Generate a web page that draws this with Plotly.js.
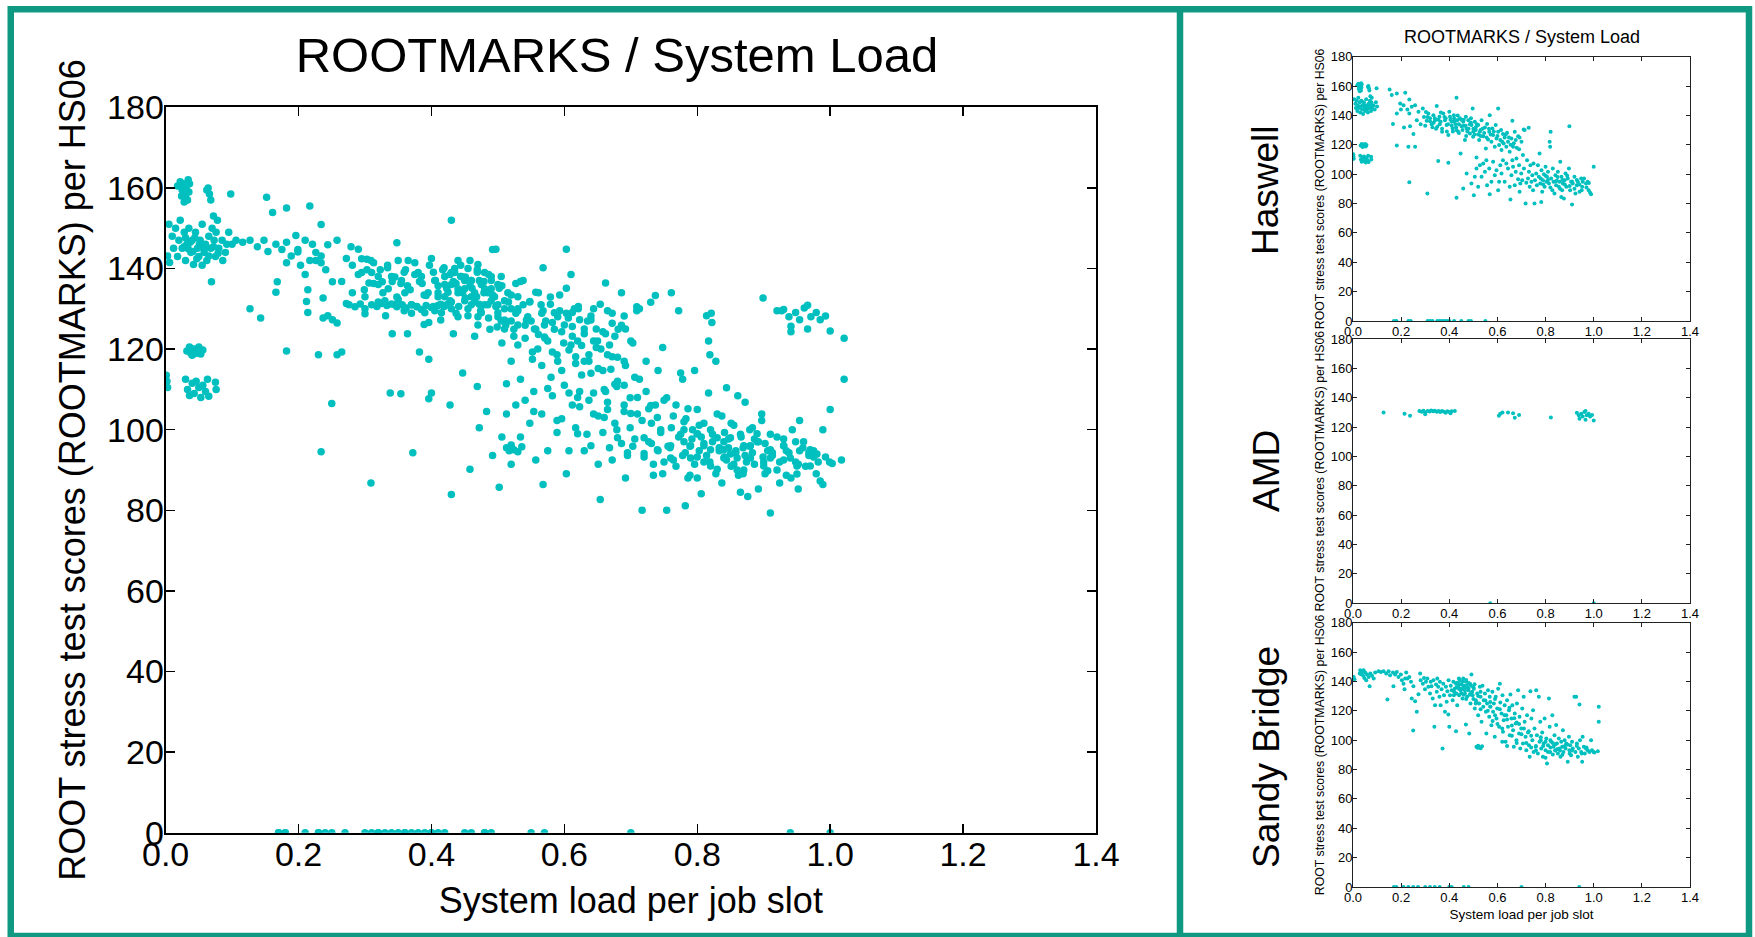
<!DOCTYPE html>
<html><head><meta charset="utf-8">
<script src="https://cdn.plot.ly/plotly-3.0.1.min.js"></script>
<style>html,body{margin:0;padding:0;background:#fff;overflow:hidden}#chart{width:1755px;height:937px}</style>
</head><body><div id="chart"></div>
<script>
// ---------- text ----------
const mainTitle = 'ROOTMARKS / System Load';
const xTitle = 'System load per job slot';
const yTitle = 'ROOT stress test scores (ROOTMARKS) per HS06';
const panelNames = ['Haswell', 'AMD', 'Sandy Bridge'];

// ---------- ticks ----------
const xTickVals = [0, 0.2, 0.4, 0.6, 0.8, 1.0, 1.2, 1.4];
const xTickText = ['0.0', '0.2', '0.4', '0.6', '0.8', '1.0', '1.2', '1.4'];
const yTickVals = [0, 20, 40, 60, 80, 100, 120, 140, 160, 180];
const yTickText = ['0', '20', '40', '60', '80', '100', '120', '140', '160', '180'];

// ---------- Haswell (system load per job slot, ROOTMARKS per HS06) ----------
const haswellX = [
 0.018,0.022,0.025,0.027,0.030,0.031,0.033,0.035,0.036,0.028,0.024,0.034,
 0.062,0.066,0.068,0.064,0.098,
 0.005,0.010,0.012,0.015,0.018,0.020,0.022,0.025,0.028,0.030,
 0.032,0.035,0.038,0.040,0.042,0.045,0.048,0.050,0.052,0.055,
 0.058,0.060,0.062,0.065,0.068,0.070,0.072,0.073,0.075,0.076,
 0.078,0.080,0.085,0.090,0.095,0.100,
 0.032,0.036,0.040,0.043,0.046,0.050,0.053,0.056,0.038,
 0.030,0.033,0.036,0.040,0.043,0.046,0.050,0.053,0.056,0.060,0.063,0.065,0.075,0.076,
 0.001,0.002,0.003,
 0.152,0.161,0.182,0.217,0.234,0.166,0.182,0.196,0.199,0.210,
 0.212,0.226,0.234,0.237,0.244,0.251,0.258,0.265,0.272,0.281,
 0.290,0.295,0.303,0.306,0.313,0.320,0.327,0.334,0.341,0.348,
 0.350,0.359,0.364,0.370,0.375,0.382,0.389,0.396,0.400,0.403,
 0.410,0.414,0.419,0.425,0.430,0.433,0.437,0.444,0.447,0.451,
 0.458,0.465,0.469,0.472,0.479,0.486,0.492,0.497,0.499,0.506,
 0.510,0.513,0.520,0.524,0.527,0.534,0.541,0.548,0.552,0.557,
 0.561,0.566,0.568,0.575,0.579,0.582,0.589,0.593,0.596,0.603,
 0.603,0.607,0.612,0.617,0.623,0.626,0.630,0.637,0.640,0.644,
 0.651,0.658,0.662,0.665,0.672,0.676,0.686,0.692,0.709,0.730,
 0.713,
 0.300,0.310,0.335,0.345,0.355,0.365,0.385,0.395,0.405,0.415,
 0.420,0.428,0.435,0.440,0.455,0.460,0.468,0.475,0.485,0.490,
 0.500,0.505,0.515,0.530,0.538,0.545,0.555,0.565,0.572,0.585,
 0.600,0.615,0.620,0.635,0.648,0.655,0.668,0.680,0.690,0.700,
 0.320,0.330,0.340,0.360,0.370,0.380,0.390,0.410,0.420,0.430,
 0.440,0.450,0.460,0.470,0.480,0.490,0.500,0.510,0.520,0.530,
 0.234,0.309,0.354,0.396,0.182,0.230,0.258,
 0.472,0.458,0.430,0.492,0.502,0.506,0.513,0.520,0.527,0.534,
 0.541,0.548,0.554,0.557,0.566,0.568,0.575,0.582,0.589,0.596,
 0.603,0.607,0.612,0.617,0.623,0.630,0.637,0.644,0.651,0.654,
 0.658,0.662,0.665,0.672,0.676,0.679,0.686,0.690,0.692,0.695,
 0.699,0.703,0.706,0.710,0.717,0.720,0.723,0.727,0.731,0.734,
 0.737,0.741,0.745,0.748,0.750,0.754,0.756,0.761,0.764,0.768,
 0.772,0.775,0.778,0.782,0.783,0.786,0.789,0.793,0.796,0.800,
 0.803,0.806,0.810,0.814,0.817,0.819,0.821,0.823,0.828,0.830,
 0.833,0.837,0.841,0.844,0.847,0.851,0.855,0.858,0.861,0.865,
 0.866,0.869,0.872,0.876,0.879,0.883,0.886,0.892,0.897,0.899,
 0.902,0.906,0.910,0.913,0.920,0.924,0.930,0.934,0.941,0.948,
 0.952,0.954,0.975,0.979,0.985,0.989,1.000,0.968,
 0.780,0.790,0.800,0.810,0.820,0.840,0.850,0.860,0.870,0.880,
 0.890,0.900,0.910,0.920,0.930,0.940,0.950,0.960,0.970,0.980,
 0.17,0.18,0.23,0.24,0.31,0.32,0.33,0.35,0.36,0.37,0.38,0.39,0.40,0.42,0.45,0.48,0.49,0.55
];
const haswellY = [
 160.5,161.5,159.5,161,158,160,157,159,161,156.5,158,162,
 159.5,158.5,157,160,158.5,
 151,148,145,150,143,147,152,145,149,142,
 146,150,144,147,141,149,145,143,147,151,
 144,146,142,148,145,150,153,147,143,149,
 152,145,147,144,149,146,
 119.5,120.5,118.5,120,119,120.5,118.8,119.8,119,
 112.5,110,108.5,111.5,109,112,110.5,108,111,109.5,112.5,108.3,111.8,110,
 113.5,112,110.5,
 157.7,153.9,155,155.5,150.9,134.1,141.4,148.2,144.1,147,
 131.8,144,141.4,132.7,145.9,127.3,147,136.8,142.5,134,
 144.8,139,142.3,136.4,141.4,138,134,140.2,136.8,146.4,
 132.3,139.1,135.7,128.9,141.4,136.8,133.4,126.6,142.5,139.1,
 135.7,131.1,140.2,134.1,152,136.8,128.9,138,114.1,132.7,
 135.7,123.2,139.1,131.1,136.8,127.7,133.4,144.8,125.5,135.7,
 130,111.4,133.4,123.2,128.9,136.8,125.9,131.8,117.5,134.1,
 123.6,128.9,140.2,122,131.1,126.6,118.6,133.4,124.3,144.8,
 128.9,119.8,123.2,116.4,127.3,120.9,125,118.6,128.2,122,
 115.2,124.3,136.4,118.6,128.9,123.2,125.9,125,130.5,131.6,
 130,
 133,139,135,131,137,142,138,134,137,129,
 136,132,140,134,130,137,133,129,134,138,
 131,127,134,126,131,128,125,131,127,129,
 126,130,122,127,125,120,121,118,117,122,
 136,132,138,134,131,139,129,133,138,130,
 128,137,133,126,131,135,129,132,127,130,
 94.5,86.8,108.9,107.7,119.5,118.6,118.6,
 100.5,90.2,83.9,93.6,85.7,98.2,103.9,91.4,106.1,98.2,
 107.3,101.6,109.5,92.5,103.9,86.4,94.8,108.4,99.3,102.7,
 89.1,94.8,106.1,100.5,109.5,94.8,107.3,103.9,91.4,82.7,
 99.3,109.5,105,92.5,101.6,110.7,96.6,106.1,88,93.6,
 100.5,95.9,113,103.9,80,94.1,109.5,97,101.6,91.4,
 106.1,94.8,99.3,89.1,107.3,80,95.9,100.5,92.5,106.1,
 98.2,114.1,93.6,81.1,102.7,88,95.9,100,91.4,105,
 94.8,98.2,101.6,93.6,122,118.6,128.9,97,89.1,103.9,
 94.8,86.8,99.3,92.5,95.5,101.6,91.4,94.8,108.4,84.5,
 98.2,89.1,93.6,83.4,95.9,100.5,91.4,97,103.9,132.7,
 89.1,94.8,79.3,93.6,98.2,86.8,92.5,94.8,88,97,
 91.4,94.8,94.8,89.1,87.3,86.4,105,93.6,
 97,93,99,96,91,95,98,90,96,93,
 99,92,95,90,96,93,89,97,91,94,
 0,0,0,0,0,0,0,0,0,0,0,0,0,0,0,0,0,0
];

// ---------- AMD ----------
const amdX = [
 0.127,0.214,0.237,0.276,0.285,0.293,0.300,0.310,0.318,0.300,
 0.325,0.333,0.340,0.348,0.356,0.362,0.370,0.378,0.385,0.392,
 0.400,0.405,0.410,0.423,0.606,0.612,0.621,0.644,0.665,0.672,
 0.690,0.822,0.930,0.938,0.941,0.948,0.954,0.961,0.966,0.971,
 0.966,0.979,0.985,0.993,1.000,0.57,1.00
];
const amdY = [
 130,129.1,127.7,131,130.5,131.2,130,131,130.6,128.8,
 131.3,130.8,131.2,130.5,131,130.2,131,130.5,129.8,130.8,
 130.3,129.5,130.8,131,127.7,129.1,130,130,129.5,126.4,
 128.2,126.6,129.8,128,125.7,129.1,127.3,130.2,130.9,128,
 125,129.1,127.3,128.2,124.5,0,0
];

// ---------- Sandy Bridge ----------
const sandyX = [
 0.030,0.037,0.044,0.051,0.028,0.041,0.058,0.065,0.072,0.079,
 0.086,0.069,0.092,0.055,0.047,0.034,0.003,0.006,0.106,0.116,
 0.127,0.138,0.143,0.148,0.154,0.166,0.168,0.175,0.182,0.189,
 0.199,0.203,0.210,0.217,0.221,0.214,0.226,0.234,0.241,0.244,
 0.251,0.258,0.265,0.272,0.279,0.281,0.290,0.295,0.299,0.303,
 0.309,0.313,0.320,0.323,0.326,0.331,0.334,0.338,0.341,0.345,
 0.348,0.350,0.354,0.359,0.361,0.364,0.368,0.372,0.375,0.378,
 0.382,0.386,0.389,0.392,0.396,0.397,0.400,0.403,0.406,0.410,
 0.414,0.417,0.419,0.423,0.428,0.428,0.430,0.433,0.437,0.441,
 0.444,0.447,0.451,0.455,0.458,0.461,0.465,0.469,0.469,0.472,
 0.474,0.479,0.483,0.486,0.488,0.492,0.497,0.502,0.506,0.510,
 0.516,0.520,0.524,0.527,0.530,0.534,0.538,0.541,0.543,0.548,
 0.552,0.554,0.557,0.561,0.566,0.568,0.571,0.575,0.579,0.582,
 0.585,0.589,0.593,0.596,0.599,0.603,0.607,0.610,0.612,0.617,
 0.621,0.623,0.626,0.630,0.634,0.637,0.640,0.644,0.648,0.651,
 0.654,0.658,0.662,0.665,0.668,0.672,0.676,0.679,0.681,0.686,
 0.690,0.692,0.695,0.699,0.703,0.706,0.709,0.713,0.717,0.720,
 0.723,0.727,0.731,0.734,0.737,0.741,0.745,0.748,0.750,0.754,
 0.759,0.761,0.764,0.768,0.772,0.775,0.778,0.782,0.786,0.789,
 0.792,0.796,0.800,0.803,0.806,0.810,0.814,0.817,0.819,0.823,
 0.828,0.830,0.833,0.837,0.841,0.844,0.847,0.851,0.855,0.858,
 0.862,0.865,0.869,0.872,0.874,0.879,0.883,0.886,0.892,0.897,
 0.899,0.902,0.906,0.910,0.913,0.920,0.927,0.924,0.930,0.934,
 0.938,0.941,0.943,0.948,0.952,0.954,0.959,0.963,0.968,0.975,
 0.982,0.989,0.993,0.999,1.003,1.017,1.021,1.021,0.513,0.517,
 0.520,0.524,0.530,0.536,0.250,
 0.420,0.430,0.435,0.440,0.445,0.450,0.455,0.460,0.465,0.470,
 0.475,0.480,0.485,0.490,0.495,0.500,0.505,0.512,0.520,0.530,
 0.560,0.570,0.580,0.590,0.600,0.620,0.640,0.660,0.680,0.700,
 0.720,0.740,0.760,0.780,0.800,0.820,0.840,0.860,0.880,0.900,
 0.430,0.440,0.450,0.460,0.470,0.480,0.490,0.500,0.510,0.530,
 0.550,0.570,0.590,0.610,0.630,0.650,0.670,0.690,0.710,0.730,
 0.790,0.810,0.830,0.850,0.870,0.890,0.910,0.930,0.950,0.970,
 0.620,0.640,0.660,0.680,0.740,0.760,0.780,0.800,0.820,0.840,
 0.17,0.18,0.21,0.23,0.25,0.27,0.30,0.32,0.34,0.36,0.40,0.41,0.46,0.48,0.70,0.94
];
const sandyY = [
 147.6,146.5,147.6,146,145.4,144.2,144.7,143.1,145.4,143.8,
 142,136.7,146,140.8,142.4,144.9,143.1,141.5,147,146.5,
 147,145.4,127.7,147,144.2,146,136.7,144.7,146.5,143.1,
 144.7,140.8,138.5,142,146,134.7,142,143.1,139.7,128.3,
 136.7,126.5,119.3,131.3,145.4,140.8,138.5,142.4,134.7,139.7,
 142,136.3,131.7,139.7,136.7,128.3,140.8,109.1,123.8,137.9,
 132.9,142,136.3,129.5,139.7,123.8,134.7,94.3,138.5,130.6,
 119.3,136.3,126.1,133.3,117.5,140.8,109.1,130.6,137,134,
 127.2,139.7,130.6,135.1,106.1,138.5,131.7,123.8,136.3,130.6,
 140.8,134,137.9,128.3,142,135.1,131.7,110.7,139.7,137,
 129.5,134,104.5,138.5,124.9,144.7,130.6,135.1,121.5,127.2,
 131.7,117,124.9,136.3,129.5,112.5,137,122.7,127.2,131.7,
 119.3,104.5,124.9,134,115.9,129.5,122.7,110.2,132.9,119.3,
 124.9,102.3,129.5,114.7,121.5,135.1,109.1,138.5,125.6,118.1,
 130.6,105.7,113.6,123.8,98.9,117,127.2,109.1,120.4,103.4,
 131.1,114.7,123.8,106.8,95.5,118.1,111.3,100,124.9,134,
 104.5,115.9,94.3,107.9,121.5,97.7,129.5,112.5,102.3,93.2,
 117,105.2,96.6,88.7,133.3,114.7,100,120.4,92,107.9,
 95.5,134,103.4,90.9,129.5,98.9,112.5,94.3,105.2,88.7,
 97.7,114.7,93.2,101.1,84.1,96.6,128.3,109.1,92,98.9,
 117,90.2,95.5,103.4,93.2,110.4,97.7,90.9,101.1,94.3,
 88.7,98.9,95.5,106.8,92,100,94.3,97.7,85.3,102.3,
 93.2,96.6,89.8,98.9,94.3,129.5,129.5,92,97.7,88.7,
 94.3,124.3,100,92,85.3,102.3,95.5,90.9,94.3,93.2,
 92,100,93.2,92,91.6,92.5,122.7,112.5,95.5,94.8,
 96.2,95,94.5,95.8,106.5,
 133,136,139,135,138,132,140,137,134,141,
 136,139,131,137,133,128,138,126,130,121,
 120,126,113,117,111,108,114,110,112,104,
 98,103,96,100,99,95,97,93,96,91,
 139,142,135,131,128,135,132,136,125,133,
 127,123,128,121,117,122,115,111,108,106,
 96,92,98,94,90,97,93,96,91,95,
 99,96,103,98,95,93,102,88,100,93,
 0,0,0,0,0,0,0,0,0,0,0,0,0,0,0,0
];

// ---------- drawing ----------
const W = 1755, H = 937;
const fx = p => p / W;
const fy = p => 1 - p / H;
const FONT = 'Liberation Sans, Arial, Helvetica, sans-serif';
const CYAN = '#00bfbf';
const TEAL = '#0f9983';

function axisStyle(big, extra) {
  return Object.assign({
    showgrid: false, zeroline: false, showline: true,
    linecolor: big ? '#000' : '#222', linewidth: big ? 2 : 1,
    mirror: 'ticks', ticks: 'inside', ticklen: big ? 9 : 4,
    tickwidth: big ? 1.5 : 1, tickcolor: big ? '#000' : '#222',
    tickfont: {family: FONT, size: big ? 34 : 13, color: '#000'},
    fixedrange: true
  }, extra);
}
function xAxis(big, dom, anchor, withTitle) {
  return axisStyle(big, {
    domain: dom, anchor: anchor, range: [0, 1.4],
    tickmode: 'array', tickvals: xTickVals, ticktext: xTickText,
    ticklabelstandoff: big ? -10 : -2,
    title: withTitle ? {text: xTitle, font: {family: FONT, size: big ? 36 : 13.5, color: '#000'}, standoff: big ? 16 : 5} : {text: ''}
  });
}
function yAxis(big, dom, anchor) {
  return axisStyle(big, {
    domain: dom, anchor: anchor, range: [0, 180],
    tickmode: 'array', tickvals: yTickVals, ticktext: yTickText,
    ticklabelstandoff: big ? -7 : -3,
    title: {text: yTitle, font: {family: FONT, size: big ? 36 : 12.3, color: '#000'}, standoff: big ? 10 : 3}
  });
}

const allX = haswellX.concat(amdX, sandyX);
const allY = haswellY.concat(amdY, sandyY);

const traces = [
  {x: allX, y: allY, xaxis: 'x', yaxis: 'y', type: 'scatter', mode: 'markers',
   marker: {color: CYAN, size: 7.5, line: {width: 0}}, name: 'All'},
  {x: haswellX, y: haswellY, xaxis: 'x2', yaxis: 'y2', type: 'scatter', mode: 'markers',
   marker: {color: CYAN, size: 4, line: {width: 0}}, name: panelNames[0]},
  {x: amdX, y: amdY, xaxis: 'x3', yaxis: 'y3', type: 'scatter', mode: 'markers',
   marker: {color: CYAN, size: 4, line: {width: 0}}, name: panelNames[1]},
  {x: sandyX, y: sandyY, xaxis: 'x4', yaxis: 'y4', type: 'scatter', mode: 'markers',
   marker: {color: CYAN, size: 4, line: {width: 0}}, name: panelNames[2]}
];

const smallX = [fx(1353), fx(1690)];
const layout = {
  width: W, height: H, autosize: false,
  margin: {l: 0, r: 0, t: 0, b: 0, pad: 0},
  paper_bgcolor: '#fff', plot_bgcolor: '#fff',
  showlegend: false,
  font: {family: FONT, color: '#000'},
  title: {text: mainTitle, font: {family: FONT, size: 49, color: '#000'},
          x: fx(617), xanchor: 'center', y: fy(55), yanchor: 'middle', xref: 'paper', yref: 'paper'},
  xaxis: xAxis(true, [fx(165.6), fx(1096)], 'y', true),
  yaxis: yAxis(true, [fy(832.7), fy(107.3)], 'x'),
  xaxis2: xAxis(false, smallX, 'y2', false),
  yaxis2: yAxis(false, [fy(321), fy(56.7)], 'x2'),
  xaxis3: xAxis(false, smallX, 'y3', false),
  yaxis3: yAxis(false, [fy(603.3), fy(339)], 'x3'),
  xaxis4: xAxis(false, smallX, 'y4', true),
  yaxis4: yAxis(false, [fy(887), fy(622.7)], 'x4'),
  annotations: [
    {text: mainTitle, x: fx(1521.5), y: fy(37), xref: 'paper', yref: 'paper',
     xanchor: 'center', yanchor: 'middle', showarrow: false, font: {family: FONT, size: 18, color: '#000'}},
    {text: panelNames[0], x: fx(1266), y: fy(190), xref: 'paper', yref: 'paper', textangle: -90,
     xanchor: 'center', yanchor: 'middle', showarrow: false, font: {family: FONT, size: 37, color: '#000'}},
    {text: panelNames[1], x: fx(1266), y: fy(471), xref: 'paper', yref: 'paper', textangle: -90,
     xanchor: 'center', yanchor: 'middle', showarrow: false, font: {family: FONT, size: 37, color: '#000'}},
    {text: panelNames[2], x: fx(1266), y: fy(757), xref: 'paper', yref: 'paper', textangle: -90,
     xanchor: 'center', yanchor: 'middle', showarrow: false, font: {family: FONT, size: 37, color: '#000'}}
  ],
  shapes: [
    {type: 'rect', xref: 'paper', yref: 'paper', x0: fx(10.75), x1: fx(1749), y0: fy(936), y1: fy(9.35),
     line: {color: TEAL, width: 6.5}, fillcolor: 'rgba(0,0,0,0)', layer: 'above'},
    {type: 'line', xref: 'paper', yref: 'paper', x0: fx(1180), x1: fx(1180), y0: fy(936), y1: fy(9.35),
     line: {color: TEAL, width: 6.5}, layer: 'above'}
  ]
};

Plotly.newPlot('chart', traces, layout, {staticPlot: true, displayModeBar: false});
</script>
</body></html>
